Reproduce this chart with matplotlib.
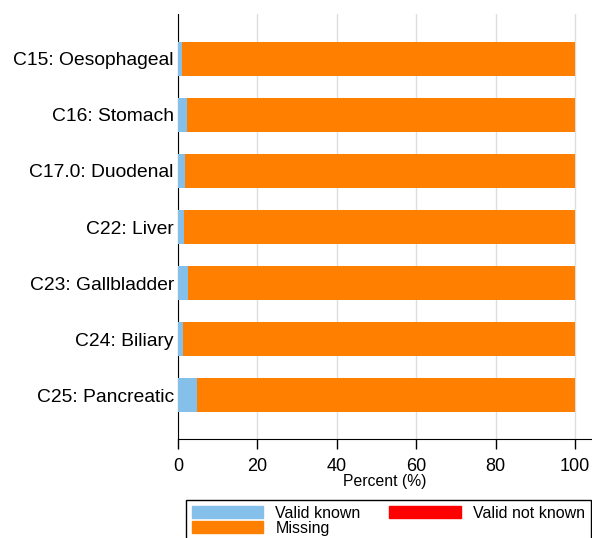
import numpy as np
import matplotlib.pyplot as plt
from matplotlib.patches import Patch

plt.rcParams['font.family'] = ['Liberation Sans', 'DejaVu Sans']

sites = ['C15: Oesophageal', 'C16: Stomach', 'C17.0: Duodenal', 'C22: Liver',
         'C23: Gallbladder', 'C24: Biliary', 'C25: Pancreatic']
valid_known = [1.1, 2.2, 1.7, 1.5, 2.6, 1.2, 4.9]
valid_not_known = [0, 0, 0, 0, 0, 0, 0]
missing = [100 - a - b for a, b in zip(valid_known, valid_not_known)]

c_known = '#85c0ea'
c_notknown = '#ff0000'
c_missing = '#ff8000'

fig = plt.figure(figsize=(5.92, 5.38), dpi=100)
ax = fig.add_axes([178/592, 1 - 439/538, 1 - 178/592, (439 - 14)/538])

y = np.arange(len(sites))[::-1]
vk = np.array(valid_known)
vn = np.array(valid_not_known)
ms = np.array(missing)
ax.barh(y, vk, height=0.6, color=c_known, zorder=3)
ax.barh(y, vn, left=vk, height=0.6, color=c_notknown, zorder=3)
ax.barh(y, ms, left=vk + vn, height=0.6, color=c_missing, zorder=3)

ax.set_xlim(0, 104.3)
ax.set_ylim(-0.78, 6.8)
ax.set_xticks([0, 20, 40, 60, 80, 100])
ax.set_yticks(y)
ax.set_yticklabels(sites, fontsize=13.9)
ax.tick_params(axis='y', length=0, pad=3)
ax.tick_params(axis='x', labelsize=13, length=7, direction='out', width=1, pad=7)
ax.xaxis.grid(True, color='#dddddd', linewidth=1, zorder=0)
for s in ['top', 'right']:
    ax.spines[s].set_visible(False)
ax.set_xlabel('Percent (%)', fontsize=11.3, labelpad=-1)

handles = [Patch(color=c_known, label='Valid known'),
           Patch(color=c_missing, label='Missing'),
           Patch(color=c_notknown, label='Valid not known')]
leg = fig.legend(handles=handles, ncol=2, loc='upper left',
                 bbox_to_anchor=(186/592, 1 - 500/538), fontsize=11.5,
                 handlelength=4.5, handleheight=0.7, labelspacing=0.0,
                 columnspacing=1.8, handletextpad=0.75, borderpad=0.35,
                 borderaxespad=0, fancybox=False, framealpha=1,
                 edgecolor='black')
leg.get_frame().set_linewidth(1)

fig.savefig('out.png', dpi=100)
